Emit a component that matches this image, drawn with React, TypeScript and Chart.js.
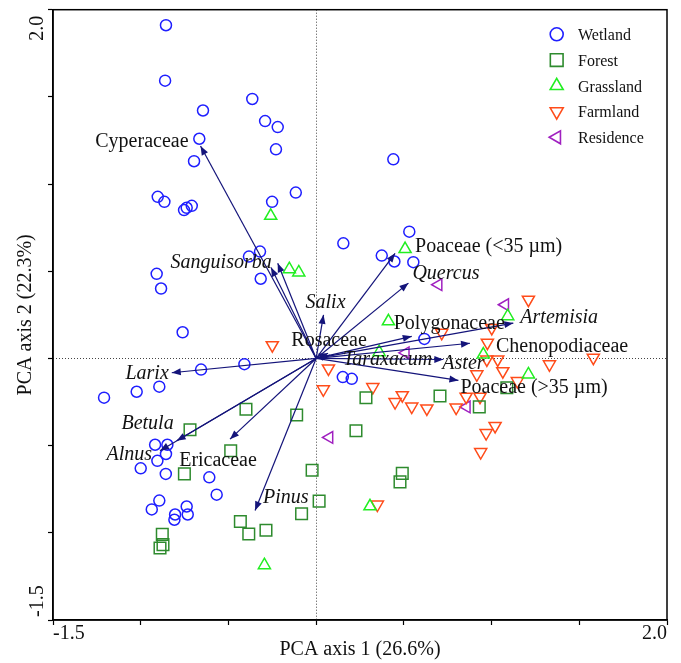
import React, { useEffect, useRef } from 'react';
import { Chart, registerables } from 'chart.js';
import { drawPoint } from 'chart.js/helpers';

Chart.register(...registerables);

// ---------------- DATA ----------------
const X_TICK_LABELS = ['-1.5', '2.0'];
const Y_TICK_LABELS = ['2.0', '-1.5'];
const X_TITLE = 'PCA axis 1 (26.6%)';
const Y_TITLE = 'PCA axis 2 (22.3%)';

const SERIES_NAMES = ['Wetland', 'Forest', 'Grassland', 'Farmland', 'Residence'];

const WETLAND: [number, number][] = [
  [-0.856, 1.911], [-0.861, 1.593], [-0.645, 1.422], [-0.364, 1.488], [-0.291, 1.361],
  [-0.219, 1.327], [-0.666, 1.26], [-0.229, 1.199], [-0.696, 1.131], [-0.116, 0.951],
  [-0.903, 0.927], [-0.865, 0.898], [-0.753, 0.851], [-0.738, 0.864], [-0.709, 0.875],
  [-0.251, 0.898], [0.44, 1.142], [-0.383, 0.584], [-0.32, 0.613], [-0.316, 0.457],
  [-0.909, 0.485], [-0.884, 0.401], [-0.761, 0.15], [0.155, 0.66], [0.531, 0.727],
  [0.374, 0.59], [0.446, 0.556], [0.554, 0.552], [0.617, 0.112], [0.152, -0.107],
  [0.203, -0.117], [-0.409, -0.033], [-0.656, -0.064], [-1.209, -0.225], [-1.023, -0.191],
  [-0.894, -0.162], [-0.918, -0.495], [-0.848, -0.495], [-0.856, -0.548], [-0.905, -0.587],
  [-1.0, -0.63], [-0.857, -0.662], [-0.609, -0.682], [-0.567, -0.781], [-0.894, -0.815],
  [-0.937, -0.866], [-0.738, -0.849], [-0.732, -0.895], [-0.804, -0.895], [-0.808, -0.925],
];

const FOREST: [number, number][] = [
  [-0.4, -0.291], [-0.111, -0.324], [-0.719, -0.409], [-0.487, -0.529], [-0.751, -0.662],
  [-0.023, -0.641], [0.017, -0.818], [-0.083, -0.891], [-0.432, -0.935], [-0.384, -1.007],
  [-0.286, -0.985], [-0.877, -1.009], [-0.873, -1.068], [-0.89, -1.087], [0.284, -0.225],
  [0.706, -0.215], [0.227, -0.415], [0.491, -0.659], [0.478, -0.708], [0.93, -0.278],
  [1.087, -0.168],
];

const GRASSLAND: [number, number][] = [
  [-0.259, 0.818], [-0.153, 0.512], [-0.099, 0.493], [0.507, 0.627], [0.412, 0.213],
  [0.359, 0.036], [0.953, 0.022], [0.307, -0.848], [1.092, 0.242], [1.21, -0.092],
  [-0.295, -1.186],
];

const FARMLAND: [number, number][] = [
  [-0.25, 0.076], [0.07, -0.057], [0.041, -0.177], [0.323, -0.164], [0.45, -0.25],
  [0.491, -0.211], [0.545, -0.276], [0.631, -0.287], [0.798, -0.282], [0.855, -0.219],
  [0.934, -0.219], [0.969, -0.428], [1.02, -0.387], [0.938, -0.537], [0.349, -0.838],
  [0.716, 0.147], [1.001, 0.175], [1.21, 0.337], [0.976, 0.09], [0.973, -0.006],
  [1.035, -0.006], [1.064, -0.073], [1.33, -0.034], [1.58, 0.004], [0.916, -0.091],
  [1.147, -0.13],
];

const RESIDENCE: [number, number][] = [
  [0.697, 0.423], [1.077, 0.308], [0.51, 0.032], [0.858, -0.278], [0.075, -0.453],
];

const TAXA = [
  'Cyperaceae', 'Sanguisorba', '', 'Salix', 'Poaceae (<35 µm)', 'Quercus', 'Artemisia',
  'Polygonaceae', 'Chenopodiaceae', 'Aster', 'Poaceae (>35 µm)', 'Rosaceae', 'Taraxacum',
  'Larix', 'Betula', 'Alnus', 'Ericaceae', 'Pinus',
];
const TAXA_X = [
  -0.659, -0.219, -0.257, 0.042, 0.45, 0.526, 1.124, 0.545, 0.877, 0.725, 0.811, 0.068, 0.079,
  -0.823, -0.795, -0.89, -0.491, -0.348,
];
const TAXA_Y = [
  1.218, 0.546, 0.521, 0.25, 0.603, 0.432, 0.203, 0.127, 0.087, -0.006, -0.126, 0.03, 0.019,
  -0.082, -0.472, -0.529, -0.463, -0.872,
];

// ---------------- STYLE / LAYOUT ----------------
const SERIES_STYLE = [
  { color: '#1f1fff', pointStyle: 'circle', rotation: 0, radius: 5.5, legendRadius: 6.5 },
  { color: '#2e8b2e', pointStyle: 'rect', rotation: 0, radius: 8.2, legendRadius: 9 },
  { color: '#22ee22', pointStyle: 'triangle', rotation: 0, radius: 7, legendRadius: 7.5 },
  { color: '#ff4c1a', pointStyle: 'triangle', rotation: 180, radius: 7, legendRadius: 7.5 },
  { color: '#a020c0', pointStyle: 'triangle', rotation: 270, radius: 6.8, legendRadius: 7.5 },
];
const ARROW_COLOR = '#14147a';
const FONT = '"Liberation Serif", "Times New Roman", serif';

// label placement relative to arrow tip, in pixels
const LABEL_LAYOUT: { dx: number; dy: number; align: CanvasTextAlign; italic: boolean }[] = [
  { dx: -12, dy: -4, align: 'right', italic: false },
  { dx: -6, dy: 0, align: 'right', italic: true },
  { dx: 0, dy: 0, align: 'left', italic: false },
  { dx: 2, dy: -12, align: 'center', italic: true },
  { dx: 20, dy: -7, align: 'left', italic: false },
  { dx: 4, dy: -9, align: 'left', italic: true },
  { dx: 7, dy: -5, align: 'left', italic: true },
  { dx: -18, dy: -13, align: 'left', italic: false },
  { dx: 26, dy: 3, align: 'left', italic: false },
  { dx: -1, dy: 4, align: 'left', italic: true },
  { dx: 2, dy: 7, align: 'left', italic: false },
  { dx: 1, dy: -12, align: 'center', italic: false },
  { dx: 13, dy: 5, align: 'left', italic: true },
  { dx: -3, dy: 1, align: 'right', italic: true },
  { dx: -3, dy: -17, align: 'right', italic: true },
  { dx: -8, dy: 4, align: 'right', italic: true },
  { dx: -12, dy: 22, align: 'center', italic: false },
  { dx: 8, dy: -13, align: 'left', italic: true },
];

const SERIES_DATA = [WETLAND, FOREST, GRASSLAND, FARMLAND, RESIDENCE];

const overlayPlugin = {
  id: 'pcaOverlay',
  beforeDatasetsDraw(chart: any) {
    const { ctx, chartArea: a, scales } = chart;
    const x0 = scales.x.getPixelForValue(0);
    const y0 = scales.y.getPixelForValue(0);
    ctx.save();
    ctx.strokeStyle = '#444';
    ctx.lineWidth = 1;
    ctx.setLineDash([1, 2]);
    ctx.beginPath();
    ctx.moveTo(Math.round(x0) + 0.5, a.top);
    ctx.lineTo(Math.round(x0) + 0.5, a.bottom);
    ctx.moveTo(a.left, Math.round(y0) + 0.5);
    ctx.lineTo(a.right, Math.round(y0) + 0.5);
    ctx.stroke();
    ctx.restore();
  },
  afterDatasetsDraw(chart: any) {
    const { ctx, scales } = chart;
    const ox = scales.x.getPixelForValue(0);
    const oy = scales.y.getPixelForValue(0);
    ctx.save();
    ctx.fillStyle = ARROW_COLOR;
    for (let i = 0; i < TAXA.length; i++) {
      const tx = scales.x.getPixelForValue(TAXA_X[i]);
      const ty = scales.y.getPixelForValue(TAXA_Y[i]);
      const ang = Math.atan2(ty - oy, tx - ox);
      const len = 9, hw = 3.5;
      const bx = tx - Math.cos(ang) * len;
      const by = ty - Math.sin(ang) * len;
      ctx.beginPath();
      ctx.moveTo(tx, ty);
      ctx.lineTo(bx - Math.sin(ang) * hw, by + Math.cos(ang) * hw);
      ctx.lineTo(bx + Math.sin(ang) * hw, by - Math.cos(ang) * hw);
      ctx.closePath();
      ctx.fill();
    }
    ctx.fillStyle = '#111';
    ctx.textBaseline = 'middle';
    for (let i = 0; i < TAXA.length; i++) {
      if (!TAXA[i]) continue;
      const L = LABEL_LAYOUT[i];
      const tx = scales.x.getPixelForValue(TAXA_X[i]);
      const ty = scales.y.getPixelForValue(TAXA_Y[i]);
      ctx.font = `${L.italic ? 'italic ' : ''}20px ${FONT}`;
      ctx.textAlign = L.align;
      ctx.fillText(TAXA[i], tx + L.dx, ty + L.dy);
    }
    ctx.restore();
  },
  afterDraw(chart: any) {
    const { ctx, chartArea: a, scales } = chart;
    ctx.save();
    ctx.strokeStyle = '#000';
    ctx.lineWidth = 1.5;
    ctx.strokeRect(a.left, a.top, a.right - a.left, a.bottom - a.top);

    ctx.fillStyle = '#111';
    ctx.font = `20px ${FONT}`;
    ctx.textBaseline = 'alphabetic';
    ctx.textAlign = 'left';
    ctx.fillText(X_TICK_LABELS[0], scales.x.getPixelForValue(-1.5), a.bottom + 19);
    ctx.textAlign = 'right';
    ctx.fillText(X_TICK_LABELS[1], scales.x.getPixelForValue(2.0), a.bottom + 19);

    ctx.save();
    ctx.translate(a.left - 10, scales.y.getPixelForValue(2.0) + 6);
    ctx.rotate(-Math.PI / 2);
    ctx.textAlign = 'right';
    ctx.fillText(Y_TICK_LABELS[0], 0, 0);
    ctx.restore();
    ctx.save();
    ctx.translate(a.left - 10, scales.y.getPixelForValue(-1.5) - 3);
    ctx.rotate(-Math.PI / 2);
    ctx.textAlign = 'left';
    ctx.fillText(Y_TICK_LABELS[1], 0, 0);
    ctx.restore();

    ctx.textAlign = 'center';
    ctx.fillText(X_TITLE, (a.left + a.right) / 2, a.bottom + 35);
    ctx.save();
    ctx.translate(31, (a.top + a.bottom) / 2);
    ctx.rotate(-Math.PI / 2);
    ctx.fillText(Y_TITLE, 0, 0);
    ctx.restore();

    ctx.font = `16px ${FONT}`;
    ctx.textAlign = 'left';
    for (let i = 0; i < SERIES_NAMES.length; i++) {
      const s = SERIES_STYLE[i];
      const base = 40 + 25.75 * i;
      ctx.fillStyle = '#111';
      ctx.fillText(SERIES_NAMES[i], 578, base);
      ctx.fillStyle = 'rgba(0,0,0,0)';
      ctx.strokeStyle = s.color;
      ctx.lineWidth = 1.6;
      drawPoint(ctx, { pointStyle: s.pointStyle as any, rotation: s.rotation, radius: s.legendRadius, borderWidth: 1.6 }, 556.7, base - 5.7);
    }
    ctx.restore();
  },
};

export default function App() {
  const ref = useRef<HTMLCanvasElement>(null);
  useEffect(() => {
    if (!ref.current) return;
    const markerSets = SERIES_DATA.map((pts, i) => ({
      label: SERIES_NAMES[i],
      data: pts.map(([x, y]) => ({ x, y })),
      showLine: false,
      backgroundColor: 'rgba(0,0,0,0)',
      borderColor: SERIES_STYLE[i].color,
      borderWidth: 1.5,
      pointStyle: SERIES_STYLE[i].pointStyle,
      pointRotation: SERIES_STYLE[i].rotation,
      pointRadius: SERIES_STYLE[i].radius,
      pointHoverRadius: SERIES_STYLE[i].radius,
      order: 2,
    }));
    const arrowSets = TAXA.map((name, i) => ({
      label: name || 'arrow',
      data: [{ x: 0, y: 0 }, { x: TAXA_X[i], y: TAXA_Y[i] }],
      showLine: true,
      borderColor: ARROW_COLOR,
      borderWidth: 1.2,
      pointRadius: 0,
      pointHoverRadius: 0,
      order: 1,
    }));
    const chart = new Chart(ref.current, {
      type: 'scatter',
      data: { datasets: [...arrowSets, ...markerSets] as any },
      options: {
        animation: false,
        responsive: false,
        maintainAspectRatio: false,
        events: [],
        layout: { padding: { left: 0, right: 14, top: 7, bottom: 0 } },
        plugins: { legend: { display: false }, tooltip: { enabled: false } },
        scales: {
          x: {
            type: 'linear', min: -1.5, max: 2.0,
            ticks: { stepSize: 0.5, display: false },
            grid: { drawOnChartArea: false, drawTicks: true, tickLength: 5, color: '#000', tickWidth: 1.2 },
            border: { display: true, color: '#000', width: 1.5 },
            afterFit: (s: any) => { s.height = 43; },
          },
          y: {
            type: 'linear', min: -1.5, max: 2.0,
            ticks: { stepSize: 0.5, display: false },
            grid: { drawOnChartArea: false, drawTicks: true, tickLength: 5, color: '#000', tickWidth: 1.2 },
            border: { display: true, color: '#000', width: 1.5 },
            afterFit: (s: any) => { s.width = 53; },
          },
        },
      } as any,
      plugins: [overlayPlugin],
    });
    return () => chart.destroy();
  }, []);
  return (
    <div style={{ position: 'absolute', left: 0, top: 0, width: 681, height: 663, background: '#fff' }}>
      <canvas ref={ref} width={681} height={663} style={{ display: 'block', width: 681, height: 663 }} />
    </div>
  );
}
